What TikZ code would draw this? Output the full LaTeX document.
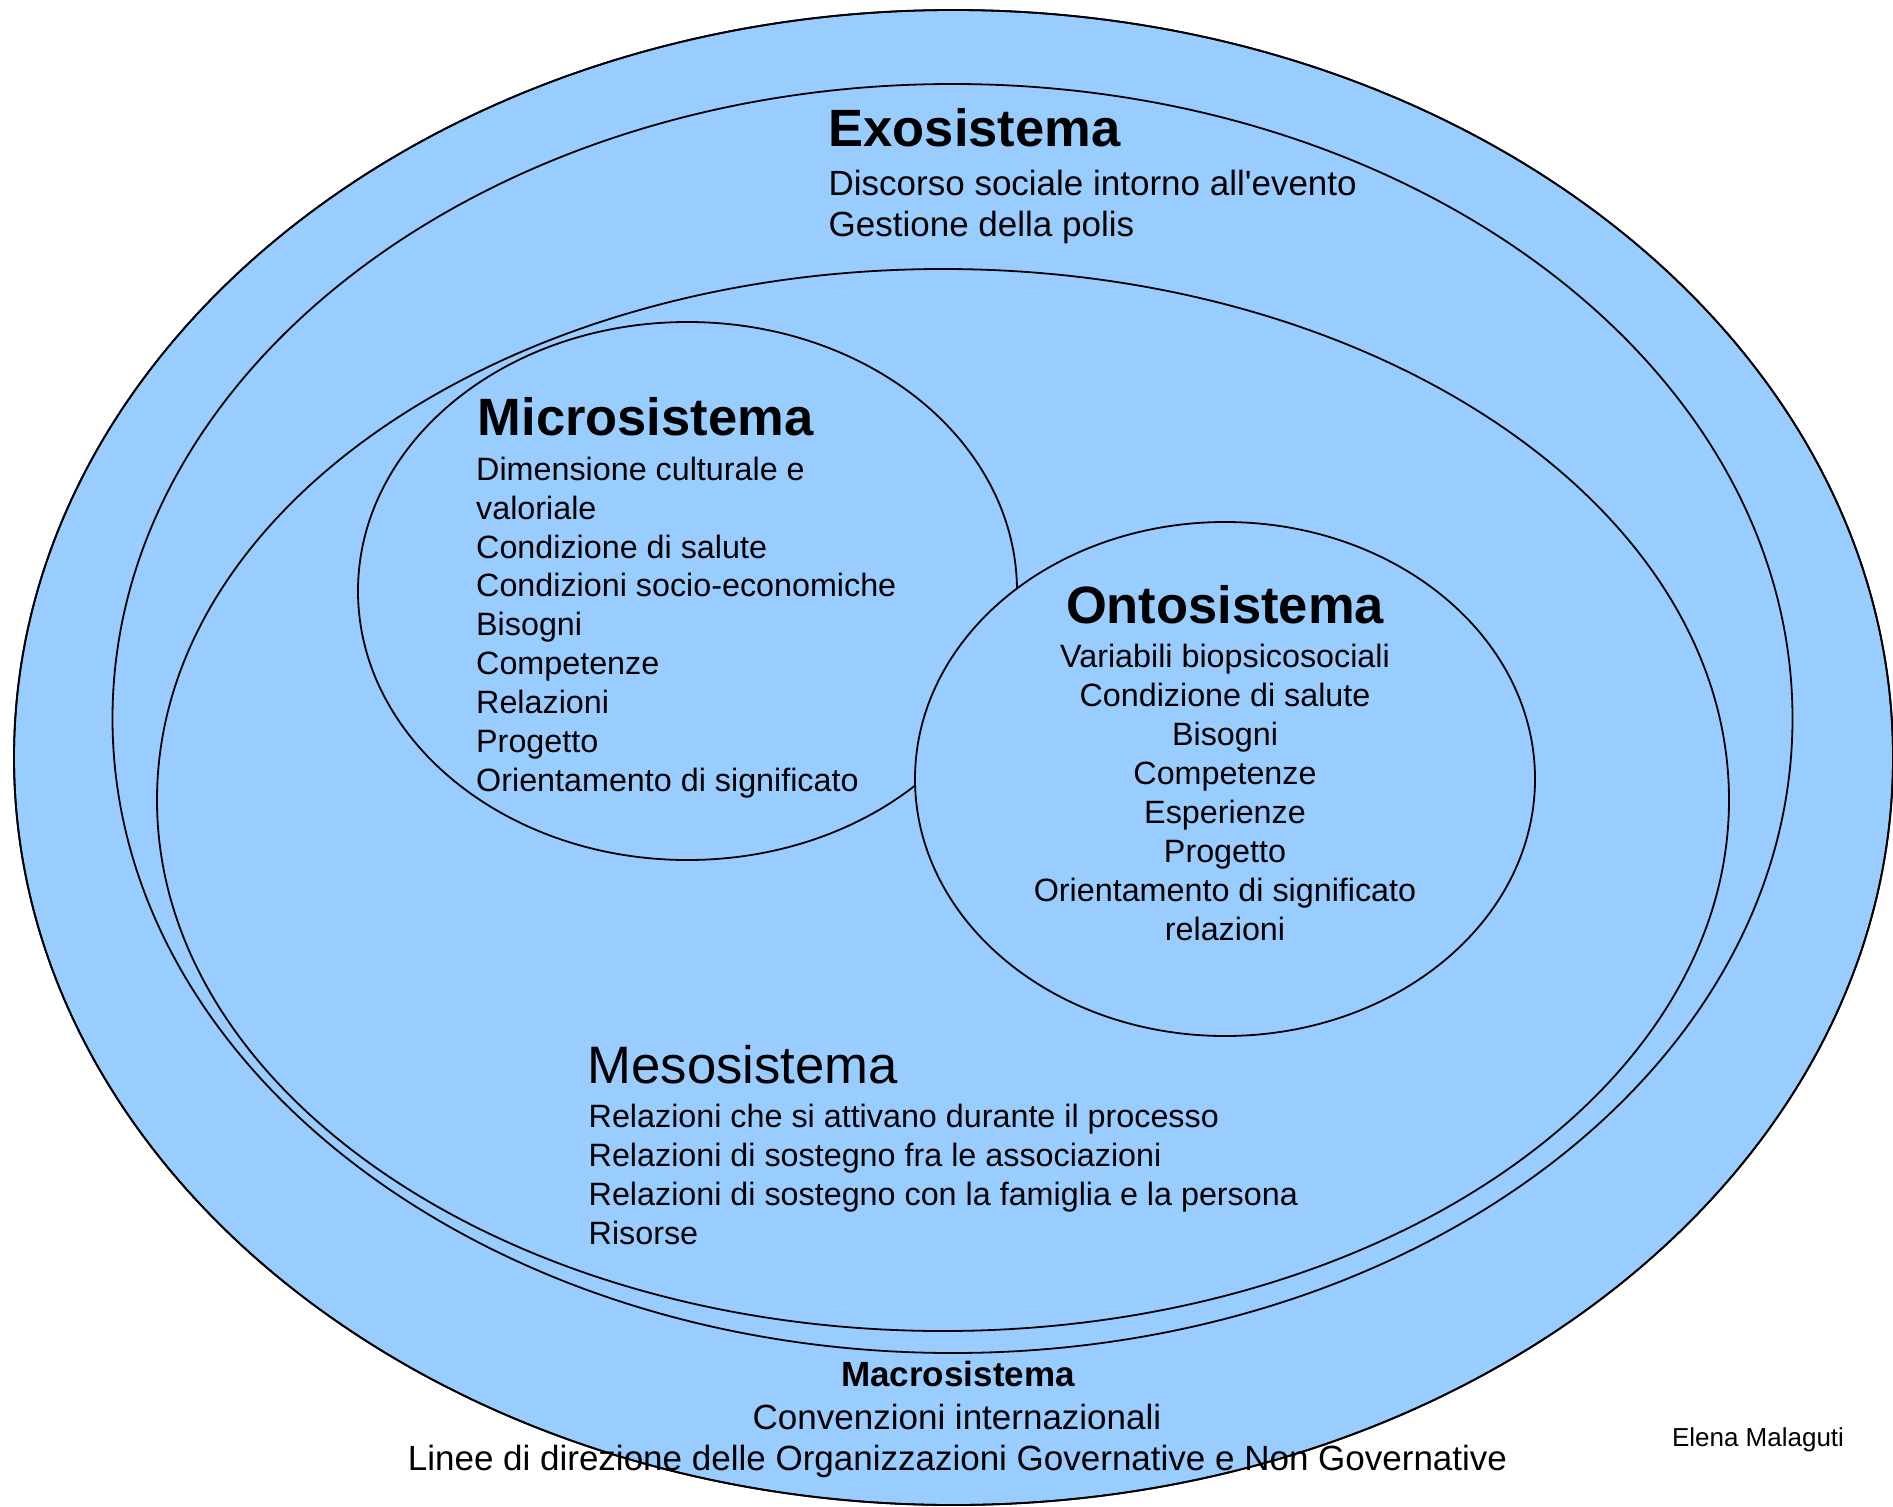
\documentclass[tikz,border=0pt]{standalone}
\usepackage{fontspec}
\setmainfont{Liberation Sans}[Ligatures=TeXOff]
\definecolor{sysblue}{HTML}{99CCFF}
\begin{document}
\begin{tikzpicture}[x=1pt,y=-1pt,
  ring/.style={fill=sysblue, draw=black, line width=1.8pt},
  rim/.style={draw=black, line width=1.8pt},
  headb/.style={font=\fontsize{52.5}{60}\selectfont\bfseries, inner sep=0pt},
  headr/.style={font=\fontsize{52.7}{60}\selectfont, inner sep=0pt},
  bodyl/.style={font=\fontsize{35}{41}\selectfont, inner sep=0pt},
  bodys/.style={font=\fontsize{32.3}{39}\selectfont, inner sep=0pt},
  macrob/.style={font=\fontsize{35}{41}\selectfont\bfseries, inner sep=0pt},
  signs/.style={font=\fontsize{26}{30}\selectfont, inner sep=0pt}]
\useasboundingbox (0,0) rectangle (1893,1507);
\fill[white] (0,0) rectangle (1893,1507);
\begin{scope}
\clip (0,0) rectangle (1893,1507);
% Macrosistema (outer)
\path[ring] (953.5,757.5) ellipse [x radius=939.5, y radius=747.5];
% Exosistema
\path[ring] (952.5,718.5) ellipse [x radius=840, y radius=634.5];
% Mesosistema
\path[ring] (943,800) ellipse [x radius=786, y radius=531];
% Microsistema
\path[ring] (687.5,591) ellipse [x radius=329.5, y radius=269];
% Ontosistema
\path[ring] (1225,779) ellipse [x radius=310, y radius=257];
\end{scope}

% Exosistema text
\node[headb, anchor=base west] (exoh) at (828.5,146.7) {Exosistema};
\node[bodyl, anchor=base west] (exo1) at (828.5,195.5) {Discorso sociale intorno all'evento};
\node[bodyl, anchor=base west] (exo2) at (828.5,236.5) {Gestione della polis};

% Microsistema text
\node[headb, anchor=base west] (mich) at (477.5,435.7) {Microsistema};
\foreach \t [count=\i from 0] in {Dimensione culturale e, valoriale, Condizione di salute, Condizioni socio-economiche, Bisogni, Competenze, Relazioni, Progetto, Orientamento di significato}
  \node[bodys, anchor=base west] (mic\i) at (476,480.3+38.85*\i) {\t};

% Ontosistema text
\node[headb, anchor=base] (onth) at (1225,623.3) {Ontosistema};
\foreach \t [count=\i from 0] in {Variabili biopsicosociali, Condizione di salute, Bisogni, Competenze, Esperienze, Progetto, Orientamento di significato, relazioni}
  \node[bodys, anchor=base] (ont\i) at (1225,667.7+38.9*\i) {\t};

% Mesosistema text
\node[headr, anchor=base west] (mesh) at (587.5,1083.3) {Mesosistema};
\foreach \t [count=\i from 0] in {Relazioni che si attivano durante il processo, Relazioni di sostegno fra le associazioni, Relazioni di sostegno con la famiglia e la persona, Risorse}
  \node[bodys, anchor=base west] (mes\i) at (588.5,1127.7+38.9*\i) {\t};

% Macrosistema text
\node[macrob, anchor=base] (mach) at (958,1386) {Macrosistema};
\node[bodyl, anchor=base] (mac1) at (957,1429) {Convenzioni internazionali};
\node[bodyl, anchor=base] (mac2) at (957.5,1470.5) {Linee di direzione delle Organizzazioni Governative e Non Governative};

% Author
\node[signs, anchor=base] (author) at (1758,1446.7) {Elena Malaguti};

% outer rim drawn over the bottom text, as in the reference
\begin{scope}
\clip (0,0) rectangle (1893,1507);
\path[rim] (953.5,757.5) ellipse [x radius=939.5, y radius=747.5];
\end{scope}
\end{tikzpicture}
\end{document}
